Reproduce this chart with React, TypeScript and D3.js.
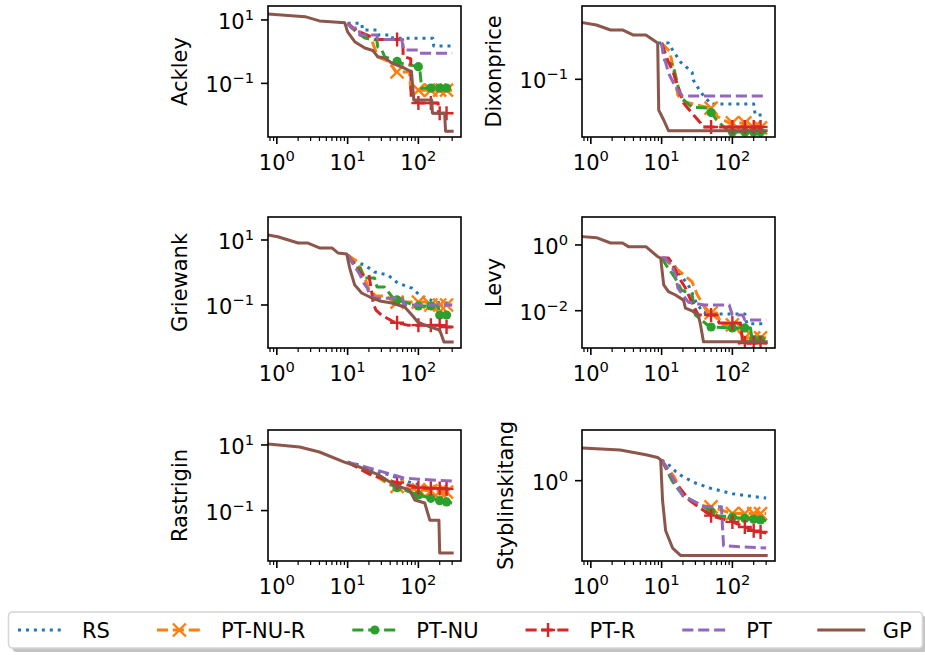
import React, { useEffect, useRef } from "react";
import * as d3 from "d3";

type Pt = [number, number];

const seriesNames = ["RS", "PT-NU-R", "PT-NU", "PT-R", "PT", "GP"];
const seriesColors = ["#1f77b4", "#ff7f0e", "#2ca02c", "#d62728", "#9467bd", "#8c564b"];
const seriesDash = ["3,4.95", "11.1,4.8", "11.1,4.8", "11.1,4.8", "11.1,4.8", "none"];
const seriesMarker = ["none", "x", "o", "+", "none", "none"];
const markerIters = [50, 100, 150, 200, 250];

const panelNames = ["Ackley", "Dixonprice", "Griewank", "Levy", "Rastrigin", "Styblinskitang"];
const xDomain: [number, number] = [0.75, 400];
const xMajorTicks = [1, 10, 100];
const yDomains: [number, number][] = [
  [0.00204, 27.5],
  [0.00361, 6.8],
  [0.00475, 51],
  [0.000733, 7.1],
  [0.0029, 28.6],
  [0.0248, 10.3],
];
// exponents of the labelled y ticks
const yTickExps = [[1, -1], [-1], [1, -1], [0, -2], [1, -1], [0]];

// Ackley
const ackleyRS: Pt[] = [[10, 7.9], [15.8, 7.9], [16.3, 4.8], [26.7, 4.8], [27.5, 3.36], [42, 3.36], [43.3, 2.64], [160, 2.64], [165, 1.51], [300, 1.51]];
const ackleyPTNUR: Pt[] = [[10, 7.9], [11.4, 5.6], [14.9, 3.36], [21.9, 2.33], [26.7, 0.68], [39.4, 0.47], [48, 0.23], [75, 0.23], [78, 0.061], [300, 0.061]];
const ackleyPTNU: Pt[] = [[10, 7.9], [12.6, 4.8], [17.5, 2.7], [25.8, 2.33], [26.7, 1.4], [30.4, 1.13], [33.5, 0.68], [46, 0.545], [54.5, 0.44], [104, 0.33], [111, 0.071], [300, 0.071]];
const ackleyPTR: Pt[] = [[10, 7.9], [11.5, 6.0], [16, 3.9], [27, 2.4], [60, 2.4], [61, 0.7], [78, 0.6], [79, 0.037], [100, 0.024], [190, 0.024], [192, 0.0115], [300, 0.0115]];
const ackleyPT: Pt[] = [[10, 7.9], [11.4, 5.6], [14.4, 5.6], [14.9, 3.36], [25.8, 3.36], [26.7, 2.42], [58, 2.42], [62, 1.13], [98, 1.13], [101, 0.89], [300, 0.89]];
const ackleyGP: Pt[] = [[0.75, 15.5], [2.5, 12.7], [4, 9.3], [9.1, 8.2], [10, 4.2], [12.6, 2.06], [17.5, 1.3], [22.7, 1.09], [26.7, 0.69], [33.5, 0.63], [42, 0.44], [64, 0.3], [80, 0.23], [86, 0.03], [154, 0.03], [158, 0.0115], [235, 0.0115], [242, 0.0031], [300, 0.0031]];

// Dixonprice
const dixonRS: Pt[] = [[9, 0.81], [12.5, 0.81], [14.3, 0.54], [18.5, 0.27], [27, 0.15], [28, 0.096], [35.5, 0.048], [50, 0.024], [200, 0.024], [210, 0.0128], [300, 0.0128]];
const dixonPTNUR: Pt[] = [[10, 0.81], [13, 0.5], [14.3, 0.23], [17, 0.04], [21, 0.027], [50, 0.019], [60, 0.012], [90, 0.0081], [150, 0.0081], [160, 0.0061], [300, 0.0061]];
const dixonPTNU: Pt[] = [[10, 0.81], [11, 0.3], [14.5, 0.23], [16.5, 0.086], [18.5, 0.036], [27, 0.02], [45, 0.019], [60, 0.0096], [90, 0.0048], [300, 0.0048]];
const dixonPTR: Pt[] = [[10, 0.81], [12.2, 0.3], [14.7, 0.144], [20.4, 0.0256], [28.3, 0.0128], [35.5, 0.0081], [38, 0.0064], [300, 0.0064]];
const dixonPT: Pt[] = [[10, 0.81], [10.5, 0.455], [12.5, 0.144], [15.7, 0.064], [19.8, 0.038], [300, 0.038]];
const dixonGP: Pt[] = [[0.77, 2.6], [1.2, 2.28], [1.9, 1.71], [2.8, 1.71], [4, 1.28], [6, 1.28], [8.8, 0.81], [9.1, 0.017], [10.7, 0.0096], [12.5, 0.0052], [300, 0.0052]];

// Griewank
const griewankRS: Pt[] = [[10, 3.45], [12.6, 2.1], [17.5, 1.7], [24, 1.03], [37, 0.84], [51, 0.475], [81, 0.33], [112, 0.176], [200, 0.115], [300, 0.115]];
const griewankPTNUR: Pt[] = [[10, 3.45], [14, 2.1], [17.5, 0.68], [20, 0.29], [25, 0.19], [35, 0.19], [45, 0.123], [130, 0.123], [140, 0.1], [300, 0.1]];
const griewankPTNU: Pt[] = [[10, 3.45], [13, 1.37], [15, 1.37], [17, 0.68], [24, 0.68], [26, 0.36], [33, 0.36], [45, 0.153], [100, 0.093], [190, 0.093], [200, 0.049], [300, 0.049]];
const griewankPTR: Pt[] = [[10, 3.45], [12.6, 1.7], [15.8, 0.84], [20, 0.84], [22, 0.234], [23, 0.115], [25, 0.071], [30, 0.049], [45, 0.03], [70, 0.024], [200, 0.024], [210, 0.021], [300, 0.021]];
const griewankPT: Pt[] = [[10, 3.45], [11.5, 2.1], [13, 1.37], [15, 0.84], [16.5, 0.51], [19, 0.33], [21, 0.176], [27, 0.16], [60, 0.16], [62, 0.1], [300, 0.1]];
const griewankGP: Pt[] = [[0.75, 14.3], [1.03, 12.6], [2, 8.1], [2.7, 8.1], [4, 5.7], [6, 5.7], [7.3, 4.0], [9.7, 3.7], [10.7, 1.37], [12.6, 0.41], [15.8, 0.234], [22, 0.164], [28.5, 0.133], [42, 0.115], [64, 0.087], [81, 0.049], [98, 0.03], [123, 0.024], [200, 0.017], [230, 0.0073], [300, 0.0073]];

// Levy
const levyRS: Pt[] = [[10, 0.4], [13, 0.35], [16, 0.2], [20, 0.1], [25, 0.05], [30, 0.02], [38, 0.009], [50, 0.008], [150, 0.008], [160, 0.004], [300, 0.004]];
const levyPTNUR: Pt[] = [[10, 0.4], [12.5, 0.3], [18.5, 0.15], [27, 0.075], [32, 0.03], [45, 0.0085], [60, 0.0085], [70, 0.0037], [130, 0.0037], [140, 0.0015], [300, 0.0015]];
const levyPTNU: Pt[] = [[10, 0.4], [11.5, 0.25], [15.5, 0.1], [19, 0.043], [27, 0.03], [30, 0.0074], [48, 0.0032], [100, 0.003], [180, 0.003], [190, 0.0013], [300, 0.0013]];
const levyPTR: Pt[] = [[10, 0.4], [12.5, 0.4], [15.7, 0.17], [18.5, 0.086], [21.7, 0.049], [27, 0.017], [33, 0.0074], [60, 0.0074], [65, 0.0042], [130, 0.0042], [140, 0.00104], [300, 0.00104]];
const levyPT: Pt[] = [[10, 0.4], [11.4, 0.4], [14.3, 0.2], [15.7, 0.122], [17, 0.049], [20.4, 0.028], [24, 0.018], [40, 0.015], [90, 0.015], [100, 0.0074], [140, 0.0074], [150, 0.0052], [300, 0.0052]];
const levyGP: Pt[] = [[0.77, 1.79], [1.2, 1.67], [1.9, 1.15], [2.8, 1.15], [3.4, 0.89], [6, 0.89], [8.8, 0.44], [9.7, 0.4], [10.7, 0.061], [12.5, 0.038], [15.7, 0.03], [20.4, 0.021], [21.7, 0.012], [27, 0.0098], [33, 0.0074], [35.5, 0.0037], [39, 0.00114], [300, 0.00114]];

// Rastrigin
const rastriginRS: Pt[] = [[10, 3.0], [14, 2.5], [20, 1.8], [40, 1.2], [80, 0.7], [150, 0.5], [300, 0.3]];
const rastriginPTNUR: Pt[] = [[10, 3.0], [20, 1.5], [40, 0.6], [80, 0.45], [150, 0.4], [300, 0.35]];
const rastriginPTNU: Pt[] = [[10, 3.0], [25, 1.2], [50, 0.5], [100, 0.3], [200, 0.2], [300, 0.17]];
const rastriginPTR: Pt[] = [[10, 3.0], [20, 1.3], [40, 0.8], [100, 0.5], [300, 0.45]];
const rastriginPT: Pt[] = [[10, 3.0], [20, 2], [40, 1.3], [60, 1.0], [100, 0.9], [300, 0.8]];
const rastriginGP: Pt[] = [[0.75, 10.7], [2.1, 8.7], [4, 6.1], [9, 3.0], [15, 2.1], [28, 1.2], [46, 0.6], [75, 0.42], [89, 0.21], [123, 0.17], [145, 0.051], [195, 0.051], [200, 0.0051], [300, 0.0051]];

// Styblinskitang
const stybRS: Pt[] = [[10, 2.6], [13, 2.0], [16, 1.5], [20, 1.2], [30, 0.9], [50, 0.7], [100, 0.55], [200, 0.48], [300, 0.45]];
const stybPTNUR: Pt[] = [[10, 2.6], [15, 1.2], [20, 0.5], [35, 0.32], [50, 0.3], [100, 0.22], [300, 0.22]];
const stybPTNU: Pt[] = [[10, 2.6], [14, 1.0], [20, 0.5], [40, 0.3], [60, 0.2], [300, 0.16]];
const stybPTR: Pt[] = [[10, 2.6], [15, 1.0], [25, 0.4], [50, 0.2], [100, 0.15], [200, 0.1], [300, 0.09]];
const stybPT: Pt[] = [[10, 2.6], [14, 1.2], [20, 0.5], [40, 0.3], [70, 0.3], [75, 0.05], [300, 0.045]];
const stybGP: Pt[] = [[0.77, 4.5], [2.6, 4.1], [6, 3.3], [8.8, 2.9], [9.7, 2.6], [10.3, 0.41], [11.4, 0.1], [14.3, 0.045], [18.5, 0.032], [300, 0.032]];

const panelSeries: Pt[][][] = [
  [ackleyRS, ackleyPTNUR, ackleyPTNU, ackleyPTR, ackleyPT, ackleyGP],
  [dixonRS, dixonPTNUR, dixonPTNU, dixonPTR, dixonPT, dixonGP],
  [griewankRS, griewankPTNUR, griewankPTNU, griewankPTR, griewankPT, griewankGP],
  [levyRS, levyPTNUR, levyPTNU, levyPTR, levyPT, levyGP],
  [rastriginRS, rastriginPTNUR, rastriginPTNU, rastriginPTR, rastriginPT, rastriginGP],
  [stybRS, stybPTNUR, stybPTNU, stybPTR, stybPT, stybGP],
];

const W = 925;
const H = 655;
const colLeft = [268, 582];
const rowTop = [6, 217, 430];
const axW = 193;
const axH = 131;
const FONT = "DejaVu Sans, sans-serif";
const FS = 21;

// value on a series at x, straight segments in log-log space
function valueAt(s: Pt[], xv: number): number | null {
  if (xv < s[0][0] || xv > s[s.length - 1][0]) return null;
  for (let i = 1; i < s.length; i++) {
    const [x0, y0] = s[i - 1];
    const [x1, y1] = s[i];
    if (xv >= x0 && xv <= x1) {
      const t = (Math.log(xv) - Math.log(x0)) / (Math.log(x1) - Math.log(x0) || 1);
      return Math.exp(Math.log(y0) + t * (Math.log(y1) - Math.log(y0)));
    }
  }
  return null;
}

function drawMarker(g: any, kind: string, cx: number, cy: number, color: string) {
  if (kind === "x") {
    const r = 6.5;
    g.append("path")
      .attr("d", `M${cx - r},${cy - r}L${cx + r},${cy + r}M${cx - r},${cy + r}L${cx + r},${cy - r}`)
      .attr("stroke", color).attr("stroke-width", 2.4).attr("fill", "none");
  } else if (kind === "+") {
    const r = 7;
    g.append("path")
      .attr("d", `M${cx - r},${cy}L${cx + r},${cy}M${cx},${cy - r}L${cx},${cy + r}`)
      .attr("stroke", color).attr("stroke-width", 2.4).attr("fill", "none");
  } else if (kind === "o") {
    g.append("circle").attr("cx", cx).attr("cy", cy).attr("r", 4.6).attr("fill", color);
  }
}

function powLabel(sel: any, exp: number) {
  sel.append("tspan").text("10");
  sel.append("tspan")
    .attr("dy", -9)
    .attr("font-size", FS * 0.7)
    .text(exp < 0 ? "\u2212" + Math.abs(exp) : String(exp));
}

const App = () => {
  const ref = useRef<SVGSVGElement>(null);

  useEffect(() => {
    const svg = d3.select(ref.current);
    svg.selectAll("*").remove();

    panelNames.forEach((name, i) => {
      const left = colLeft[i % 2];
      const top = rowTop[Math.floor(i / 2)];
      const x = d3.scaleLog().domain(xDomain).range([left, left + axW]);
      const y = d3.scaleLog().domain(yDomains[i]).range([top + axH, top]);
      const g = svg.append("g");

      const clipId = "clip" + i;
      g.append("clipPath").attr("id", clipId)
        .append("rect").attr("x", left).attr("y", top).attr("width", axW).attr("height", axH);

      const plot = g.append("g").attr("clip-path", `url(#${clipId})`);
      const line = d3.line<Pt>().x((d) => x(d[0])).y((d) => y(d[1]));

      panelSeries[i].forEach((s, k) => {
        plot.append("path")
          .attr("d", line(s))
          .attr("fill", "none")
          .attr("stroke", seriesColors[k])
          .attr("stroke-width", 3)
          .attr("stroke-dasharray", seriesDash[k])
          .attr("stroke-linejoin", "round")
          .attr("stroke-linecap", seriesDash[k] === "none" ? "square" : "butt");
        if (seriesMarker[k] !== "none") {
          markerIters.forEach((it) => {
            const v = valueAt(s, it);
            if (v !== null) drawMarker(plot, seriesMarker[k], x(it), y(v), seriesColors[k]);
          });
        }
      });

      // spines
      g.append("rect")
        .attr("x", left).attr("y", top).attr("width", axW).attr("height", axH)
        .attr("fill", "none").attr("stroke", "#000").attr("stroke-width", 1.6);

      // x ticks
      const minor: number[] = [];
      [-1, 0, 1, 2].forEach((e) => {
        for (let m = 2; m <= 9; m++) {
          const v = m * Math.pow(10, e);
          if (v > xDomain[0] && v < xDomain[1]) minor.push(v);
        }
      });
      minor.forEach((v) => {
        g.append("line")
          .attr("x1", x(v)).attr("x2", x(v)).attr("y1", top + axH).attr("y2", top + axH + 4)
          .attr("stroke", "#000").attr("stroke-width", 1.2);
      });
      xMajorTicks.forEach((v) => {
        g.append("line")
          .attr("x1", x(v)).attr("x2", x(v)).attr("y1", top + axH).attr("y2", top + axH + 7)
          .attr("stroke", "#000").attr("stroke-width", 1.6);
        const t = g.append("text")
          .attr("x", x(v)).attr("y", top + axH + 33)
          .attr("text-anchor", "middle")
          .attr("font-family", FONT).attr("font-size", FS).attr("fill", "#000");
        powLabel(t, Math.round(Math.log10(v)));
      });

      // y ticks
      const yLabels: any[] = [];
      yTickExps[i].forEach((e) => {
        const v = Math.pow(10, e);
        g.append("line")
          .attr("x1", left - 7).attr("x2", left).attr("y1", y(v)).attr("y2", y(v))
          .attr("stroke", "#000").attr("stroke-width", 1.6);
        const t = g.append("text")
          .attr("x", left - 14).attr("y", y(v) + 9)
          .attr("text-anchor", "end")
          .attr("font-family", FONT).attr("font-size", FS).attr("fill", "#000");
        powLabel(t, e);
        yLabels.push(t);
      });
      let minX = left - 14;
      yLabels.forEach((t) => {
        const b = (t.node() as SVGTextElement).getBBox();
        minX = Math.min(minX, b.x);
      });

      g.append("text")
        .attr("transform", `translate(${minX - 19},${top + axH / 2}) rotate(-90)`)
        .attr("text-anchor", "middle")
        .attr("font-family", FONT).attr("font-size", FS).attr("fill", "#000")
        .text(name);
    });

    // legend
    const lg = svg.append("g");
    const boxX = 8.5, boxY = 612, boxW = 914, boxH = 36;
    lg.append("rect")
      .attr("x", boxX + 4).attr("y", boxY + 4).attr("width", boxW).attr("height", boxH)
      .attr("rx", 4).attr("fill", "#c4c4c4");
    lg.append("rect")
      .attr("x", boxX).attr("y", boxY).attr("width", boxW).attr("height", boxH)
      .attr("rx", 4).attr("fill", "#fff").attr("stroke", "#d6d6d6").attr("stroke-width", 1.6);
    const cy = boxY + 18;
    let px = 18;
    seriesNames.forEach((n, k) => {
      lg.append("line")
        .attr("x1", px).attr("x2", px + 45).attr("y1", cy).attr("y2", cy)
        .attr("stroke", seriesColors[k]).attr("stroke-width", 3)
        .attr("stroke-dasharray", seriesDash[k])
        .attr("stroke-linecap", seriesDash[k] === "none" ? "square" : "butt");
      if (seriesMarker[k] !== "none") drawMarker(lg, seriesMarker[k], px + 22.5, cy, seriesColors[k]);
      const t = lg.append("text")
        .attr("x", px + 64).attr("y", cy + 7.5)
        .attr("font-family", FONT).attr("font-size", FS).attr("fill", "#000")
        .text(n);
      const w = (t.node() as SVGTextElement).getComputedTextLength();
      px = px + 64 + w + 47;
    });
  }, []);

  return (
    <svg
      ref={ref}
      width={W}
      height={H}
      style={{ position: "absolute", left: 0, top: 0, background: "#fff" }}
    />
  );
};

export default App;
